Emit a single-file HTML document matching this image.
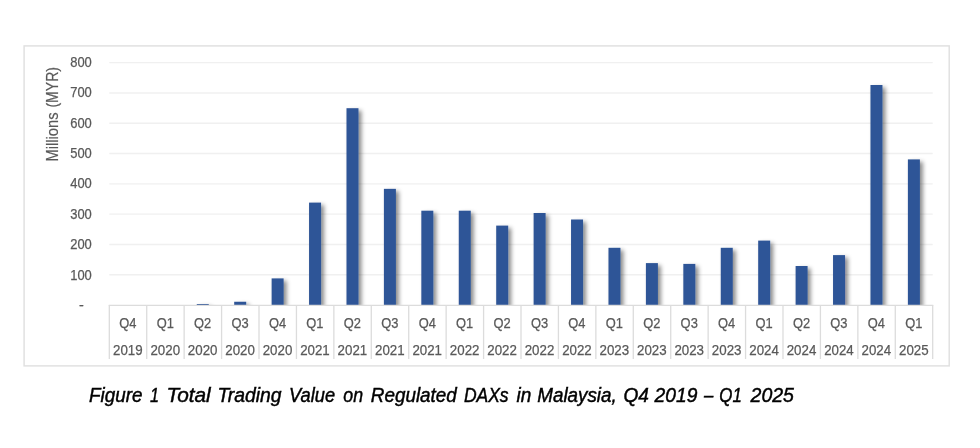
<!DOCTYPE html>
<html lang="en"><head><meta charset="utf-8"><title>Figure 1 Total Trading Value on Regulated DAXs in Malaysia</title>
<style>html,body{margin:0;padding:0;background:#fff;}body{width:980px;height:448px;overflow:hidden;}svg{display:block;will-change:transform;opacity:0.999;}text{font-family:"Liberation Sans", Arial, sans-serif;}</style></head><body>
<svg width="980" height="448" viewBox="0 0 980 448">
<defs>
<filter id="sh" x="-100%" y="-20%" width="400%" height="140%" filterUnits="objectBoundingBox"><feDropShadow dx="3" dy="2.4" stdDeviation="2" flood-color="#000" flood-opacity="0.45"/></filter>
<clipPath id="plot"><rect x="109.30" y="50" width="833.40" height="255.00"/></clipPath>
</defs>
<rect x="0" y="0" width="980" height="448" fill="#fff"/>
<rect x="24.1" y="45.9" width="925.1" height="320.0" fill="#fff" stroke="#e0e0e0" stroke-width="1.45"/>
<line x1="109.30" y1="274.78" x2="932.70" y2="274.78" stroke="#f0f0f0" stroke-width="1.4"/>
<line x1="109.30" y1="244.48" x2="932.70" y2="244.48" stroke="#f0f0f0" stroke-width="1.4"/>
<line x1="109.30" y1="214.17" x2="932.70" y2="214.17" stroke="#f0f0f0" stroke-width="1.4"/>
<line x1="109.30" y1="183.86" x2="932.70" y2="183.86" stroke="#f0f0f0" stroke-width="1.4"/>
<line x1="109.30" y1="153.55" x2="932.70" y2="153.55" stroke="#f0f0f0" stroke-width="1.4"/>
<line x1="109.30" y1="123.25" x2="932.70" y2="123.25" stroke="#f0f0f0" stroke-width="1.4"/>
<line x1="109.30" y1="92.94" x2="932.70" y2="92.94" stroke="#f0f0f0" stroke-width="1.4"/>
<line x1="109.30" y1="62.63" x2="932.70" y2="62.63" stroke="#f0f0f0" stroke-width="1.4"/>
<g clip-path="url(#plot)"><g filter="url(#sh)" fill="#2f5597">
<rect x="196.77" y="304.00" width="12.00" height="21.00"/>
<rect x="234.20" y="301.75" width="12.00" height="23.25"/>
<rect x="271.62" y="278.40" width="12.00" height="46.60"/>
<rect x="309.05" y="202.60" width="12.00" height="122.40"/>
<rect x="346.48" y="108.20" width="12.00" height="216.80"/>
<rect x="383.90" y="188.85" width="12.00" height="136.15"/>
<rect x="421.33" y="210.70" width="12.00" height="114.30"/>
<rect x="458.76" y="210.70" width="12.00" height="114.30"/>
<rect x="496.19" y="225.60" width="12.00" height="99.40"/>
<rect x="533.61" y="213.00" width="12.00" height="112.00"/>
<rect x="571.04" y="219.50" width="12.00" height="105.50"/>
<rect x="608.47" y="247.80" width="12.00" height="77.20"/>
<rect x="645.90" y="263.10" width="12.00" height="61.90"/>
<rect x="683.32" y="263.90" width="12.00" height="61.10"/>
<rect x="720.75" y="247.80" width="12.00" height="77.20"/>
<rect x="758.18" y="240.60" width="12.00" height="84.40"/>
<rect x="795.60" y="266.00" width="12.00" height="59.00"/>
<rect x="833.03" y="255.10" width="12.00" height="69.90"/>
<rect x="870.46" y="85.00" width="12.00" height="240.00"/>
<rect x="907.89" y="159.40" width="12.00" height="165.60"/>
</g></g>
<g stroke="#dcdcdc" stroke-width="1.3" fill="none">
<line x1="108.70" y1="305.30" x2="933.30" y2="305.30"/>
<line x1="109.30" y1="305.30" x2="109.30" y2="359.0"/>
<line x1="146.73" y1="305.30" x2="146.73" y2="359.0"/>
<line x1="184.15" y1="305.30" x2="184.15" y2="359.0"/>
<line x1="221.58" y1="305.30" x2="221.58" y2="359.0"/>
<line x1="259.01" y1="305.30" x2="259.01" y2="359.0"/>
<line x1="296.44" y1="305.30" x2="296.44" y2="359.0"/>
<line x1="333.86" y1="305.30" x2="333.86" y2="359.0"/>
<line x1="371.29" y1="305.30" x2="371.29" y2="359.0"/>
<line x1="408.72" y1="305.30" x2="408.72" y2="359.0"/>
<line x1="446.15" y1="305.30" x2="446.15" y2="359.0"/>
<line x1="483.57" y1="305.30" x2="483.57" y2="359.0"/>
<line x1="521.00" y1="305.30" x2="521.00" y2="359.0"/>
<line x1="558.43" y1="305.30" x2="558.43" y2="359.0"/>
<line x1="595.85" y1="305.30" x2="595.85" y2="359.0"/>
<line x1="633.28" y1="305.30" x2="633.28" y2="359.0"/>
<line x1="670.71" y1="305.30" x2="670.71" y2="359.0"/>
<line x1="708.14" y1="305.30" x2="708.14" y2="359.0"/>
<line x1="745.56" y1="305.30" x2="745.56" y2="359.0"/>
<line x1="782.99" y1="305.30" x2="782.99" y2="359.0"/>
<line x1="820.42" y1="305.30" x2="820.42" y2="359.0"/>
<line x1="857.85" y1="305.30" x2="857.85" y2="359.0"/>
<line x1="895.27" y1="305.30" x2="895.27" y2="359.0"/>
<line x1="932.70" y1="305.30" x2="932.70" y2="359.0"/>
</g>
<g font-size="14.4" fill="#595959" stroke="#595959" stroke-width="0.25" text-anchor="end">
<text x="91.8" y="279.53" textLength="21.6" lengthAdjust="spacingAndGlyphs">100</text>
<text x="91.8" y="249.15" textLength="21.6" lengthAdjust="spacingAndGlyphs">200</text>
<text x="91.8" y="218.78" textLength="21.6" lengthAdjust="spacingAndGlyphs">300</text>
<text x="91.8" y="188.40" textLength="21.6" lengthAdjust="spacingAndGlyphs">400</text>
<text x="91.8" y="158.03" textLength="21.6" lengthAdjust="spacingAndGlyphs">500</text>
<text x="91.8" y="127.65" textLength="21.6" lengthAdjust="spacingAndGlyphs">600</text>
<text x="91.8" y="97.28" textLength="21.6" lengthAdjust="spacingAndGlyphs">700</text>
<text x="91.8" y="66.90" textLength="21.6" lengthAdjust="spacingAndGlyphs">800</text>
<text x="83.8" y="310.00">-</text>
</g>
<text transform="translate(58.2 161.6) rotate(-90)" font-size="15.8" fill="#595959" stroke="#595959" stroke-width="0.2"><tspan x="0" textLength="49.2" lengthAdjust="spacingAndGlyphs">Millions</tspan> <tspan x="54.0" textLength="40.6" lengthAdjust="spacingAndGlyphs">(MYR)</tspan></text>
<g font-size="14.4" fill="#595959" stroke="#595959" stroke-width="0.25" text-anchor="middle">
<text x="127.81" y="328.3" textLength="17.2" lengthAdjust="spacingAndGlyphs">Q4</text>
<text x="127.81" y="354.9" textLength="29.6" lengthAdjust="spacingAndGlyphs">2019</text>
<text x="165.24" y="328.3" textLength="17.2" lengthAdjust="spacingAndGlyphs">Q1</text>
<text x="165.24" y="354.9" textLength="29.6" lengthAdjust="spacingAndGlyphs">2020</text>
<text x="202.67" y="328.3" textLength="17.2" lengthAdjust="spacingAndGlyphs">Q2</text>
<text x="202.67" y="354.9" textLength="29.6" lengthAdjust="spacingAndGlyphs">2020</text>
<text x="240.10" y="328.3" textLength="17.2" lengthAdjust="spacingAndGlyphs">Q3</text>
<text x="240.10" y="354.9" textLength="29.6" lengthAdjust="spacingAndGlyphs">2020</text>
<text x="277.52" y="328.3" textLength="17.2" lengthAdjust="spacingAndGlyphs">Q4</text>
<text x="277.52" y="354.9" textLength="29.6" lengthAdjust="spacingAndGlyphs">2020</text>
<text x="314.95" y="328.3" textLength="17.2" lengthAdjust="spacingAndGlyphs">Q1</text>
<text x="314.95" y="354.9" textLength="29.6" lengthAdjust="spacingAndGlyphs">2021</text>
<text x="352.38" y="328.3" textLength="17.2" lengthAdjust="spacingAndGlyphs">Q2</text>
<text x="352.38" y="354.9" textLength="29.6" lengthAdjust="spacingAndGlyphs">2021</text>
<text x="389.80" y="328.3" textLength="17.2" lengthAdjust="spacingAndGlyphs">Q3</text>
<text x="389.80" y="354.9" textLength="29.6" lengthAdjust="spacingAndGlyphs">2021</text>
<text x="427.23" y="328.3" textLength="17.2" lengthAdjust="spacingAndGlyphs">Q4</text>
<text x="427.23" y="354.9" textLength="29.6" lengthAdjust="spacingAndGlyphs">2021</text>
<text x="464.66" y="328.3" textLength="17.2" lengthAdjust="spacingAndGlyphs">Q1</text>
<text x="464.66" y="354.9" textLength="29.6" lengthAdjust="spacingAndGlyphs">2022</text>
<text x="502.09" y="328.3" textLength="17.2" lengthAdjust="spacingAndGlyphs">Q2</text>
<text x="502.09" y="354.9" textLength="29.6" lengthAdjust="spacingAndGlyphs">2022</text>
<text x="539.51" y="328.3" textLength="17.2" lengthAdjust="spacingAndGlyphs">Q3</text>
<text x="539.51" y="354.9" textLength="29.6" lengthAdjust="spacingAndGlyphs">2022</text>
<text x="576.94" y="328.3" textLength="17.2" lengthAdjust="spacingAndGlyphs">Q4</text>
<text x="576.94" y="354.9" textLength="29.6" lengthAdjust="spacingAndGlyphs">2022</text>
<text x="614.37" y="328.3" textLength="17.2" lengthAdjust="spacingAndGlyphs">Q1</text>
<text x="614.37" y="354.9" textLength="29.6" lengthAdjust="spacingAndGlyphs">2023</text>
<text x="651.80" y="328.3" textLength="17.2" lengthAdjust="spacingAndGlyphs">Q2</text>
<text x="651.80" y="354.9" textLength="29.6" lengthAdjust="spacingAndGlyphs">2023</text>
<text x="689.22" y="328.3" textLength="17.2" lengthAdjust="spacingAndGlyphs">Q3</text>
<text x="689.22" y="354.9" textLength="29.6" lengthAdjust="spacingAndGlyphs">2023</text>
<text x="726.65" y="328.3" textLength="17.2" lengthAdjust="spacingAndGlyphs">Q4</text>
<text x="726.65" y="354.9" textLength="29.6" lengthAdjust="spacingAndGlyphs">2023</text>
<text x="764.08" y="328.3" textLength="17.2" lengthAdjust="spacingAndGlyphs">Q1</text>
<text x="764.08" y="354.9" textLength="29.6" lengthAdjust="spacingAndGlyphs">2024</text>
<text x="801.50" y="328.3" textLength="17.2" lengthAdjust="spacingAndGlyphs">Q2</text>
<text x="801.50" y="354.9" textLength="29.6" lengthAdjust="spacingAndGlyphs">2024</text>
<text x="838.93" y="328.3" textLength="17.2" lengthAdjust="spacingAndGlyphs">Q3</text>
<text x="838.93" y="354.9" textLength="29.6" lengthAdjust="spacingAndGlyphs">2024</text>
<text x="876.36" y="328.3" textLength="17.2" lengthAdjust="spacingAndGlyphs">Q4</text>
<text x="876.36" y="354.9" textLength="29.6" lengthAdjust="spacingAndGlyphs">2024</text>
<text x="913.79" y="328.3" textLength="17.2" lengthAdjust="spacingAndGlyphs">Q1</text>
<text x="913.79" y="354.9" textLength="29.6" lengthAdjust="spacingAndGlyphs">2025</text>
</g>
<text y="401.7" font-size="19.9" font-style="italic" fill="#000" stroke="#000" stroke-width="0.45">
<tspan x="89.06" textLength="53.44" lengthAdjust="spacingAndGlyphs">Figure</tspan> <tspan x="149.88" textLength="9.04" lengthAdjust="spacingAndGlyphs">1</tspan> <tspan x="166.40" textLength="44.36" lengthAdjust="spacingAndGlyphs">Total</tspan> <tspan x="217.40" textLength="64.10" lengthAdjust="spacingAndGlyphs">Trading</tspan> <tspan x="289.08" textLength="46.04" lengthAdjust="spacingAndGlyphs">Value</tspan> <tspan x="343.32" textLength="19.74" lengthAdjust="spacingAndGlyphs">on</tspan> <tspan x="370.82" textLength="86.00" lengthAdjust="spacingAndGlyphs">Regulated</tspan> <tspan x="463.88" textLength="44.74" lengthAdjust="spacingAndGlyphs">DAXs</tspan> <tspan x="516.44" textLength="14.80" lengthAdjust="spacingAndGlyphs">in</tspan> <tspan x="537.32" textLength="79.40" lengthAdjust="spacingAndGlyphs">Malaysia,</tspan> <tspan x="623.38" textLength="25.42" lengthAdjust="spacingAndGlyphs">Q4</tspan> <tspan x="654.62" textLength="42.76" lengthAdjust="spacingAndGlyphs">2019</tspan> <tspan x="704.00" textLength="9.32" lengthAdjust="spacingAndGlyphs">–</tspan> <tspan x="719.26" textLength="22.54" lengthAdjust="spacingAndGlyphs">Q1</tspan> <tspan x="750.56" textLength="43.38" lengthAdjust="spacingAndGlyphs">2025</tspan>
</text>
</svg></body></html>
